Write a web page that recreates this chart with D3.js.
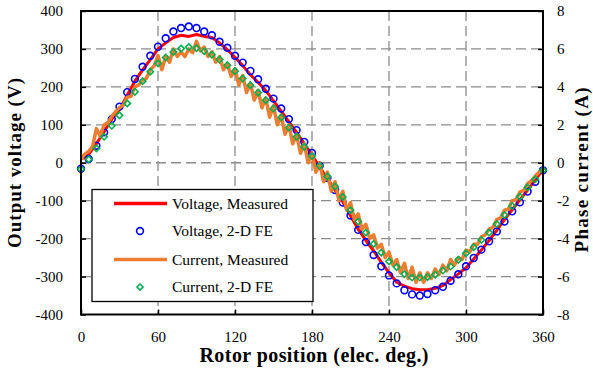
<!DOCTYPE html>
<html>
<head>
<meta charset="utf-8">
<script src="https://cdn.jsdelivr.net/npm/d3@7"></script>
<style>
  body { margin: 0; background: #fff; }
  svg { display: block; }
</style>
</head>
<body>
<div class="root"></div>
<script>
// marker positions (elec. deg.)
const markerDeg = [0,6,12,18,24,30,36,42,48,54,60,66,72,78,84,90,96,102,108,114,120,
  126,132,138,144,150,156,162,168,174,180,186,192,198,204,210,216,222,228,234,240,
  246,252,258,264,270,276,282,288,294,300,306,312,318,324,330,336,342,348,354,360];

// Voltage, Measured (V)
const voltMeas = [9,22,50,82,115,140,178,215,245,272,300,316,330,336,333,338,333,330,316,298,278,
  256,232,212,190,163,136,108,80,50,20,-12,-42,-72,-103,-140,-175,-205,-232,-262,-290,
  -315,-325,-332,-335,-335,-331,-324,-308,-293,-277,-254,-230,-205,-178,-150,-124,-98,-72,-45,-18];

// Voltage, 2-D FE (V)
const voltFE = [-16,10,45,80,115,148,186,221,253,282,306,328,346,355,359,355,346,336,319,303,282,
  264,242,220,195,169,143,115,86,55,26,-8,-40,-72,-105,-139,-177,-209,-243,-273,-297,
  -318,-336,-347,-350,-346,-336,-327,-311,-294,-273,-251,-229,-207,-181,-155,-128,-104,-76,-50,-20];

// Current, 2-D FE (A)
const currFE = [-0.33,0.18,0.76,1.37,1.95,2.5,3.13,3.74,4.3,4.8,5.24,5.55,5.84,6.02,6.1,6.04,5.88,5.7,5.44,5.14,4.83,
  4.44,4.09,3.7,3.3,2.86,2.39,1.86,1.37,0.84,0.35,-0.16,-0.72,-1.25,-1.8,-2.5,-3.1,-3.68,-4.28,-4.74,-5.2,
  -5.5,-5.87,-6.05,-6.05,-6.03,-5.9,-5.68,-5.47,-5.12,-4.77,-4.45,-4.07,-3.68,-3.23,-2.75,-2.28,-1.79,-1.3,-0.87,-0.4];

// Current, Measured (A), sampled every 3 deg
const currDeg = [0,3,6,9,12,15,18,21,24,27,30,33,36,39,42,45,48,51,54,57,60,63,66,69,72,75,78,81,84,87,90,
  93,96,99,102,105,108,111,114,117,120,123,126,129,132,135,138,141,144,147,150,153,156,159,162,165,168,171,174,177,180,
  183,186,189,192,195,198,201,204,207,210,213,216,219,222,225,228,231,234,237,240,243,246,249,252,255,258,261,264,267,270,
  273,276,279,282,285,288,291,294,297,300,303,306,309,312,315,318,321,324,327,330,333,336,339,342,345,348,351,354,357,360];
const currMeas = [0.2,0.45,0.6,0.85,1.8,1.4,2.0,2.1,2.45,2.7,2.9,3.05,3.45,3.5,4.0,4.1,4.35,4.45,4.9,5.1,5.65,4.9,5.6,5.3,6.0,5.6,5.85,5.6,6.0,5.8,6.4,
  5.9,6.1,5.6,5.85,5.3,5.6,4.9,5.25,4.55,4.95,4.1,4.6,3.7,4.2,3.3,3.8,2.9,3.4,2.4,3.0,2.0,2.5,1.5,2.0,1.0,1.5,0.5,1.0,0.0,0.5,
  -0.5,0.0,-1.0,-0.5,-1.5,-1.0,-2.0,-1.5,-2.5,-2.1,-3.0,-2.7,-3.5,-3.25,-4.0,-3.8,-4.5,-4.3,-5.0,-4.7,-5.4,-5.1,-5.8,-5.3,-6.1,-5.5,-6.3,-5.8,-6.3,-5.8,
  -6.1,-5.6,-5.9,-5.4,-5.7,-5.1,-5.4,-5.0,-5.1,-4.6,-4.7,-4.3,-4.3,-3.9,-3.8,-3.5,-3.4,-3.0,-2.9,-2.5,-2.45,-2.0,-1.95,-1.55,-1.45,-1.1,-0.95,-0.7,-0.5,-0.3];

const xTicks = [0,60,120,180,240,300,360];
const vTicks = [-400,-300,-200,-100,0,100,200,300,400];
const aTicks = [-8,-6,-4,-2,0,2,4,6,8];
const legendLabels = ["Voltage, Measured","Voltage, 2-D FE","Current, Measured","Current, 2-D FE"];

const w = 593, h = 372;
const pLeft = 81, pRight = 543, pTop = 11, pBottom = 314.5;
const font = '"Liberation Serif", "Times New Roman", serif';

const svg = d3.select(".root").append("svg").attr("width", w).attr("height", h);

const x = d3.scaleLinear().domain([0, 360]).range([pLeft, pRight]);
const yV = d3.scaleLinear().domain([-400, 400]).range([pBottom, pTop]);
const yA = d3.scaleLinear().domain([-8, 8]).range([pBottom, pTop]);

// grid
const grid = svg.append("g").attr("stroke", "#8c8c8c").attr("stroke-width", 1.3).attr("stroke-dasharray", "10,5");
grid.selectAll(".gx").data(xTicks.slice(1, -1)).enter().append("line")
  .attr("x1", d => x(d)).attr("x2", d => x(d)).attr("y1", pTop).attr("y2", pBottom);
grid.selectAll(".gy").data(vTicks.slice(1, -1)).enter().append("line")
  .attr("x1", pLeft).attr("x2", pRight).attr("y1", d => yV(d)).attr("y2", d => yV(d));

// axes
const fmt = d => String(d);
const ax = svg.append("g").attr("transform", "translate(0," + pBottom + ")")
  .call(d3.axisBottom(x).tickValues(xTicks).tickFormat(fmt).tickSizeInner(-5).tickSizeOuter(0).tickPadding(16.5));
const ayl = svg.append("g").attr("transform", "translate(" + pLeft + ",0)")
  .call(d3.axisLeft(yV).tickValues(vTicks).tickFormat(fmt).tickSizeInner(-5).tickSizeOuter(0).tickPadding(18));
const ayr = svg.append("g").attr("transform", "translate(" + pRight + ",0)")
  .call(d3.axisRight(yA).tickValues(aTicks).tickFormat(fmt).tickSizeInner(-5).tickSizeOuter(0).tickPadding(14));
[ax, ayl, ayr].forEach(g => {
  g.select(".domain").remove();
  g.attr("font-family", font).attr("font-size", 15);
  g.selectAll(".tick line").attr("stroke", "#000").attr("stroke-width", 1.5);
  g.selectAll(".tick text").attr("fill", "#000");
});

// series
const lineV = d3.line().x((d, i) => x(markerDeg[i])).y(d => yV(d));
svg.append("path").datum(voltMeas).attr("d", lineV)
  .attr("fill", "none").attr("stroke", "#ff0000").attr("stroke-width", 3).attr("stroke-linejoin", "round");

svg.append("g").selectAll("circle").data(voltFE).enter().append("circle")
  .attr("cx", (d, i) => x(markerDeg[i])).attr("cy", d => yV(d)).attr("r", 3.4)
  .attr("fill", "none").attr("stroke", "#0000ff").attr("stroke-width", 1.6);

const lineA = d3.line().x((d, i) => x(currDeg[i])).y(d => yA(d));
svg.append("path").datum(currMeas).attr("d", lineA)
  .attr("fill", "none").attr("stroke", "#ed7d31").attr("stroke-width", 3.5).attr("stroke-linejoin", "round");

const diamond = s => "M0," + (-s) + "L" + s + ",0L0," + s + "L" + (-s) + ",0Z";
svg.append("g").selectAll("path").data(currFE).enter().append("path")
  .attr("d", diamond(3.2))
  .attr("transform", (d, i) => "translate(" + x(markerDeg[i]) + "," + yA(d) + ")")
  .attr("fill", "none").attr("stroke", "#00b050").attr("stroke-width", 1.6);

// frame
svg.append("rect").attr("x", pLeft).attr("y", pTop).attr("width", pRight - pLeft).attr("height", pBottom - pTop)
  .attr("fill", "none").attr("stroke", "#000").attr("stroke-width", 2);

// legend
const lg = svg.append("g");
lg.append("rect").attr("x", 92).attr("y", 189.5).attr("width", 221).attr("height", 112)
  .attr("fill", "#fff").attr("stroke", "#000").attr("stroke-width", 1.3);
const rowY = [203.5, 231, 259.5, 287];
lg.append("line").attr("x1", 114).attr("x2", 167).attr("y1", rowY[0]).attr("y2", rowY[0])
  .attr("stroke", "#ff0000").attr("stroke-width", 3.5);
lg.append("circle").attr("cx", 140).attr("cy", rowY[1]).attr("r", 3.4)
  .attr("fill", "none").attr("stroke", "#0000ff").attr("stroke-width", 1.6);
lg.append("line").attr("x1", 114).attr("x2", 167).attr("y1", rowY[2]).attr("y2", rowY[2])
  .attr("stroke", "#ed7d31").attr("stroke-width", 3.5);
lg.append("path").attr("d", diamond(3)).attr("transform", "translate(140," + rowY[3] + ")")
  .attr("fill", "none").attr("stroke", "#00b050").attr("stroke-width", 1.6);
lg.selectAll("text").data(legendLabels).enter().append("text")
  .attr("x", 172).attr("y", (d, i) => rowY[i] + 5)
  .style("font-family", font).style("font-size", "15.5px").text(d => d);

// axis titles
svg.append("text").attr("x", 314).attr("y", 362).attr("text-anchor", "middle")
  .attr("textLength", 229).attr("lengthAdjust", "spacing")
  .style("font-family", font).style("font-size", "20px").style("font-weight", "bold")
  .text("Rotor position (elec. deg.)");
svg.append("text").attr("text-anchor", "middle")
  .attr("transform", "translate(21,163)rotate(-90)")
  .attr("textLength", 170).attr("lengthAdjust", "spacing")
  .style("font-family", font).style("font-size", "19px").style("font-weight", "bold")
  .text("Output voltage (V)");
svg.append("text").attr("text-anchor", "middle")
  .attr("transform", "translate(588,170)rotate(-90)")
  .attr("textLength", 165).attr("lengthAdjust", "spacing")
  .style("font-family", font).style("font-size", "19px").style("font-weight", "bold")
  .text("Phase current (A)");
</script>
</body>
</html>
